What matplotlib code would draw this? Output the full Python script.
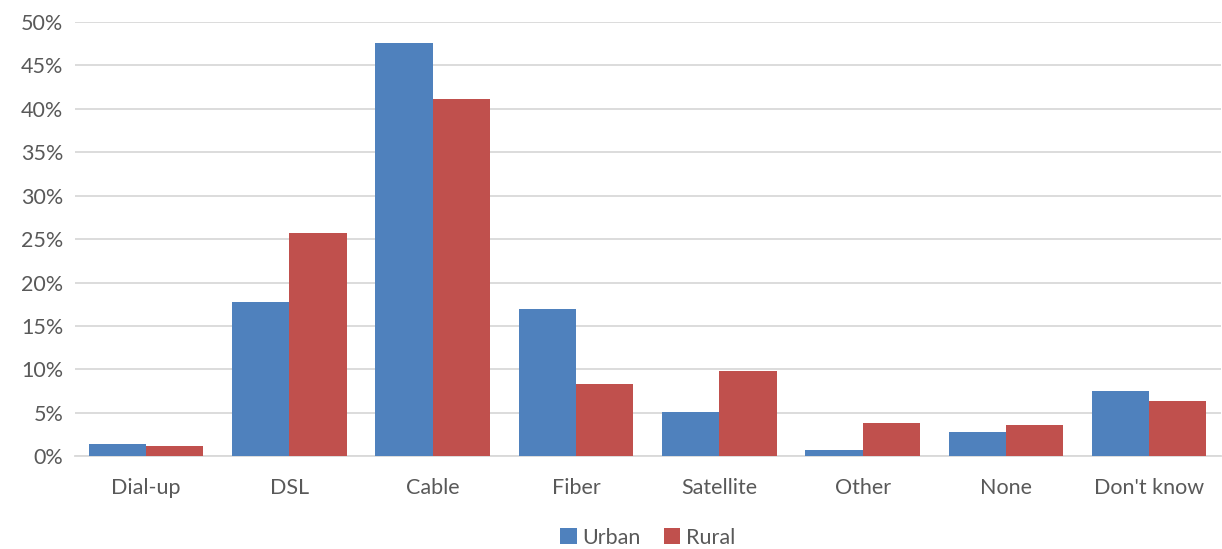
#importing the required libraries
import numpy as np
import matplotlib.pyplot as plt
from matplotlib.ticker import PercentFormatter

#chart data (percent)
categories = ['Dial-up', 'DSL', 'Cable', 'Fiber', 'Satellite', 'Other', 'None', "Don't know"]
urban = [1.4, 17.7, 47.6, 17.0, 5.1, 0.7, 2.8, 7.5]
rural = [1.15, 25.7, 41.1, 8.3, 9.8, 3.8, 3.55, 6.35]
series_names = ['Urban', 'Rural']

plt.rcParams['font.family'] = ['Lato', 'DejaVu Sans']

fig = plt.figure(figsize=(12.22, 5.49), dpi=100)
ax = fig.add_axes([0.061, 0.169, 0.938, 0.791])

x = np.arange(len(categories))
w = 0.4
ax.bar(x - w / 2, urban, w, color='#4F81BD', label=series_names[0], zorder=3)
ax.bar(x + w / 2, rural, w, color='#C0504D', label=series_names[1], zorder=3)

#axes styling
ax.set_ylim(0, 50)
ax.set_xlim(-0.5, len(categories) - 0.5)
ax.set_yticks(np.arange(0, 51, 5))
ax.yaxis.set_major_formatter(PercentFormatter(decimals=0))
ax.set_xticks(x)
ax.set_xticklabels(categories)
ax.grid(axis='y', color='#d9d9d9', linewidth=1.3, zorder=0)
for side in ['top', 'right', 'left']:
    ax.spines[side].set_visible(False)
ax.spines['bottom'].set_color('#d9d9d9')
ax.spines['bottom'].set_linewidth(1.3)
ax.tick_params(axis='both', length=0, labelsize=15.5, labelcolor='#595959')
ax.tick_params(axis='x', pad=16)
ax.tick_params(axis='y', pad=8)

ax.legend(loc='lower center', bbox_to_anchor=(0.5, -0.255), ncol=2, frameon=False,
          fontsize=15.5, labelcolor='#595959', handlelength=0.75, handleheight=0.75,
          handletextpad=0.25, columnspacing=1.1)

fig.savefig('out.png', dpi=100)
